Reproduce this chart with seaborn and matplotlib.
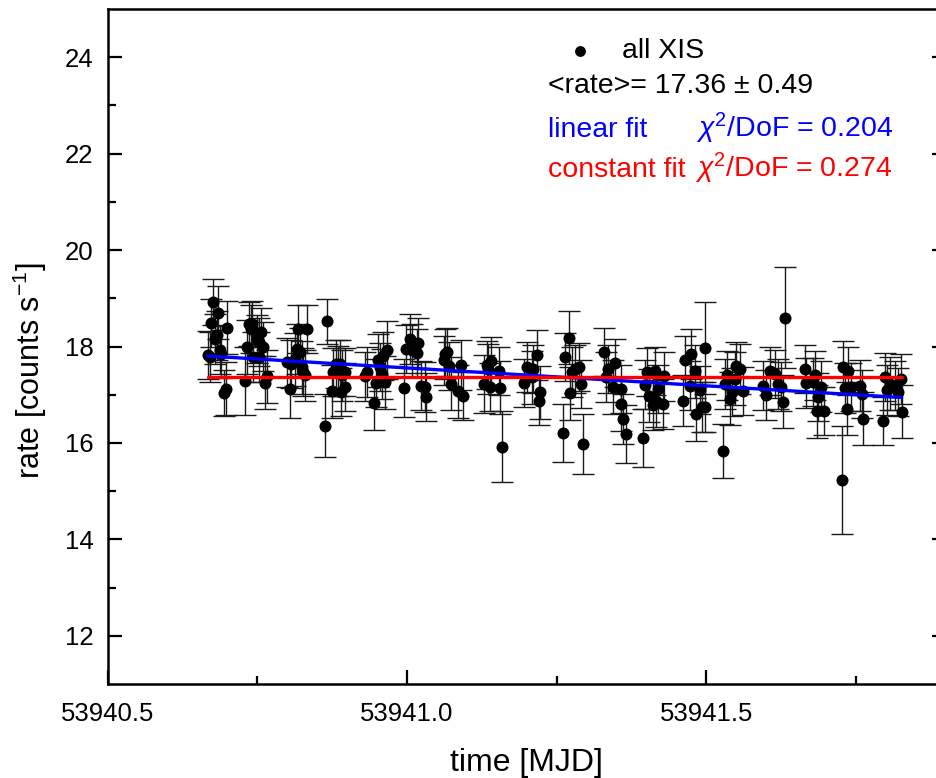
import matplotlib
matplotlib.use('Agg')
import matplotlib.pyplot as plt
import seaborn as sns
import numpy as np
import pandas as pd

# --------------------- DATA ---------------------
mjd = [
    53940.667, 53940.671, 53940.673, 53940.676, 53940.679, 53940.682, 53940.685, 53940.688, 53940.690, 53940.694,
    53940.697, 53940.700,
    53940.729, 53940.732, 53940.736, 53940.739, 53940.741, 53940.743, 53940.749, 53940.752, 53940.753, 53940.756,
    53940.760, 53940.762, 53940.766,
    53940.799, 53940.805, 53940.807, 53940.813, 53940.816, 53940.818, 53940.821, 53940.824, 53940.827, 53940.830,
    53940.833,
    53940.863, 53940.866, 53940.874, 53940.877, 53940.882, 53940.885, 53940.888, 53940.889, 53940.891, 53940.896,
    53940.897,
    53940.930, 53940.933, 53940.945, 53940.949, 53940.952, 53940.955, 53940.958, 53940.960, 53940.963, 53940.966,
    53940.995, 53940.999, 53941.005, 53941.008, 53941.016, 53941.019, 53941.024, 53941.030, 53941.031,
    53941.062, 53941.063, 53941.066, 53941.070, 53941.073, 53941.085, 53941.090, 53941.094,
    53941.129, 53941.133, 53941.136, 53941.138, 53941.140, 53941.153, 53941.155, 53941.158,
    53941.196, 53941.201, 53941.208, 53941.211, 53941.217, 53941.220, 53941.222,
    53941.260, 53941.264, 53941.270, 53941.272, 53941.275, 53941.281, 53941.287, 53941.291, 53941.294,
    53941.329, 53941.333, 53941.336, 53941.344, 53941.347, 53941.357, 53941.358, 53941.361, 53941.365,
    53941.394, 53941.398, 53941.400, 53941.404, 53941.411, 53941.414, 53941.415, 53941.419, 53941.428, 53941.429,
    53941.461, 53941.464, 53941.472, 53941.474, 53941.481, 53941.483, 53941.489, 53941.492, 53941.497, 53941.498,
    53941.528, 53941.531, 53941.534, 53941.539, 53941.542, 53941.547, 53941.550, 53941.556, 53941.561,
    53941.595, 53941.599, 53941.606, 53941.614, 53941.620, 53941.625, 53941.628, 53941.631,
    53941.664, 53941.667, 53941.678, 53941.681, 53941.684, 53941.687, 53941.692, 53941.697,
    53941.726, 53941.728, 53941.731, 53941.734, 53941.737, 53941.742, 53941.756, 53941.759, 53941.762,
    53941.794, 53941.798, 53941.801, 53941.806, 53941.815, 53941.820, 53941.825, 53941.826,
]
rate = [
    17.83, 17.78, 18.49, 18.92, 18.16, 18.23, 18.70, 17.93, 17.85, 17.03,
    17.12, 18.39,
    17.28, 17.99, 18.47, 18.37, 18.47, 17.78, 18.16, 18.09, 17.78, 18.30,
    18.00, 17.25, 17.38,
    17.67, 17.12, 17.64, 17.74, 17.95, 18.37, 17.88, 17.57, 17.47, 17.40,
    18.37,
    16.36, 18.52, 17.07, 17.47, 17.64, 17.50, 17.64, 17.05, 17.40, 17.47,
    17.16,
    17.38, 17.47, 16.82, 17.24, 17.71, 17.57, 17.43, 17.81, 17.26, 17.92,
    17.14, 17.95, 18.16, 17.92, 17.86, 18.07, 17.19, 17.16, 16.96,
    17.71, 17.85, 17.88, 17.59, 17.23, 17.07, 17.61, 16.98,
    17.23, 17.61, 17.54, 17.16, 17.70, 17.50, 17.14, 15.92,
    17.24, 17.57, 17.36, 17.54, 17.83, 16.88, 17.05,
    16.20, 17.78, 18.18, 17.03, 17.47, 17.54, 17.57, 17.23, 15.98,
    17.88, 17.36, 17.54, 17.16, 17.65, 16.80, 17.12, 16.50, 16.19,
    16.10, 17.21, 17.47, 16.98, 16.78, 17.50, 16.88, 17.12, 16.81, 17.38,
    16.88, 17.72, 17.19, 17.85, 17.49, 16.60, 17.09, 16.74, 16.74, 17.97,
    15.84, 17.23, 17.40, 16.92, 17.05, 17.33, 17.59, 17.54, 17.07,
    17.19, 17.00, 17.50, 17.43, 17.23, 17.17, 16.85, 18.60,
    17.54, 17.24, 17.26, 17.40, 16.66, 16.95, 17.17, 16.66,
    15.24, 17.57, 17.14, 16.71, 17.50, 17.16, 17.19, 17.02, 16.50,
    16.46, 17.36, 17.09, 17.23, 17.19, 17.05, 17.33, 16.65,
]
rate_err = [
    0.50, 0.52, 0.50, 0.48, 0.52, 0.50, 0.55, 0.50, 0.50, 0.48,
    0.55, 0.55,
    0.70, 0.55, 0.45, 0.50, 0.48, 0.52, 0.50, 0.50, 0.52, 0.50,
    0.50, 0.55, 0.55,
    0.50, 0.60, 0.50, 0.55, 0.52, 0.50, 0.50, 0.55, 0.50, 0.52,
    0.50,
    0.66, 0.47, 0.55, 0.50, 0.50, 0.52, 0.50, 0.50, 0.52, 0.50,
    0.50,
    0.50, 0.52, 0.55, 0.50, 0.55, 0.50, 0.52, 0.50, 0.55, 0.60,
    0.60, 0.50, 0.52, 0.55, 0.50, 0.52, 0.50, 0.52, 0.50,
    0.50, 0.52, 0.50, 0.50, 0.55, 0.55, 0.52, 0.50,
    0.60, 0.50, 0.52, 0.50, 0.50, 0.50, 0.55, 0.74,
    0.50, 0.52, 0.55, 0.50, 0.52, 0.50, 0.55,
    0.60, 0.50, 0.55, 0.55, 0.52, 0.50, 0.50, 0.50, 0.63,
    0.50, 0.52, 0.50, 0.55, 0.50, 0.55, 0.50, 0.52, 0.60,
    0.60, 0.50, 0.50, 0.55, 0.52, 0.50, 0.55, 0.50, 0.52, 0.50,
    0.52, 0.50, 0.50, 0.52, 0.55, 0.55, 0.50, 0.52, 0.52, 0.96,
    0.56, 0.52, 0.50, 0.55, 0.50, 0.55, 0.50, 0.52, 0.50,
    0.50, 0.52, 0.50, 0.50, 0.52, 0.50, 0.55, 1.05,
    0.50, 0.52, 0.50, 0.50, 0.55, 0.50, 0.52, 0.50,
    1.12, 0.55, 0.52, 0.55, 0.50, 0.50, 0.52, 0.50, 0.55,
    0.50, 0.50, 0.52, 0.55, 0.50, 0.50, 0.52, 0.55,
]

# fit results
mean_rate = 17.36
lin_ref_mjd = 53941.25
lin_at_ref = 17.37
lin_slope = -0.742  # counts/s per day

df = pd.DataFrame({'mjd': mjd, 'rate': rate, 'err': rate_err})

# --------------------- STYLE ---------------------
sns.set_style('white')
plt.rcParams['font.family'] = ['Liberation Sans', 'DejaVu Sans']
plt.rcParams['text.color'] = 'black'
plt.rcParams['axes.labelcolor'] = 'black'
plt.rcParams['mathtext.fontset'] = 'custom'
plt.rcParams['mathtext.rm'] = 'Liberation Sans'
plt.rcParams['mathtext.it'] = 'Liberation Sans:italic'

fig = plt.figure(figsize=(9.37, 7.78), dpi=100)
ax = fig.add_axes([107.6 / 937, 1 - 684 / 778, (946 - 107.6) / 937, (684 - 9) / 778])

# --------------------- ΓΡΑΦΗΜΑ ---------------------
ax.errorbar(df['mjd'], df['rate'], yerr=df['err'], fmt='none', ecolor='#1a1a1a',
            elinewidth=1.0, capsize=8, capthick=1.0, zorder=2)
sns.scatterplot(data=df, x='mjd', y='rate', ax=ax, color='black', s=75,
                edgecolor='black', linewidth=0, label='all XIS', zorder=3)

t_fit = np.array([df['mjd'].min(), df['mjd'].max()])
fits = pd.DataFrame({
    'mjd': np.concatenate([t_fit, t_fit]),
    'rate': np.concatenate([lin_at_ref + lin_slope * (t_fit - lin_ref_mjd), [mean_rate, mean_rate]]),
    'fit': ['linear', 'linear', 'constant', 'constant'],
})
sns.lineplot(data=fits, x='mjd', y='rate', hue='fit', palette={'linear': '#0000ff', 'constant': '#ff0000'},
             linewidth=2.4, ax=ax, legend=False, zorder=4)

# --------------------- AXES ---------------------
ax.set_xlim(53940.5, 53941.9)
ax.set_ylim(11, 25)
ax.set_xticks([53940.5, 53941.0, 53941.5])
ax.set_xticklabels(['53940.5', '53941.0', '53941.5'])
ax.set_xticks([53940.75, 53941.25, 53941.75], minor=True)
ax.set_yticks([12, 14, 16, 18, 20, 22, 24])
ax.set_yticks([13, 15, 17, 19, 21, 23], minor=True)
ax.tick_params(which='both', direction='in', width=1.6, labelsize=18.5, left=True, bottom=True,
               right=True, top=False, colors='black')
ax.tick_params(which='major', length=10)
ax.tick_params(which='minor', length=6)
ax.tick_params(axis='x', pad=13)
ax.tick_params(axis='y', pad=10)
for sp in ax.spines.values():
    sp.set_linewidth(1.8)
    sp.set_color('black')

ax.set_xlabel('time [MJD]', fontsize=23)
ax.set_ylabel('rate [counts s$^{-1}$]', fontsize=22)
ax.xaxis.set_label_coords(0.5, -0.095)
ax.yaxis.set_label_coords(-0.070, 0.465)

# --------------------- LEGEND / TEXT ---------------------
ax.legend(loc='upper left', bbox_to_anchor=(552 / 937, 1 - 38 / 778), bbox_transform=fig.transFigure,
          frameon=False, fontsize=20.5, handletextpad=0.45, borderpad=0, borderaxespad=0, markerscale=0.9)
fig.text(548 / 937, 1 - 93 / 778, '<rate>= 17.36 \u00b1 0.49', fontsize=20.5, va='baseline')
fig.text(548 / 937, 1 - 137 / 778, 'linear fit', fontsize=20.5, color='#0000ff', va='baseline')
fig.text(696 / 937, 1 - 137 / 778, r'$\chi^{2}$/DoF = 0.204', fontsize=20.5, color='#0000ff', va='baseline')
fig.text(548 / 937, 1 - 177 / 778, 'constant fit', fontsize=20.5, color='#ff0000', va='baseline')
fig.text(695 / 937, 1 - 177 / 778, r'$\chi^{2}$/DoF = 0.274', fontsize=20.5, color='#ff0000', va='baseline')

plt.savefig('out.png', dpi=100)
plt.close()
